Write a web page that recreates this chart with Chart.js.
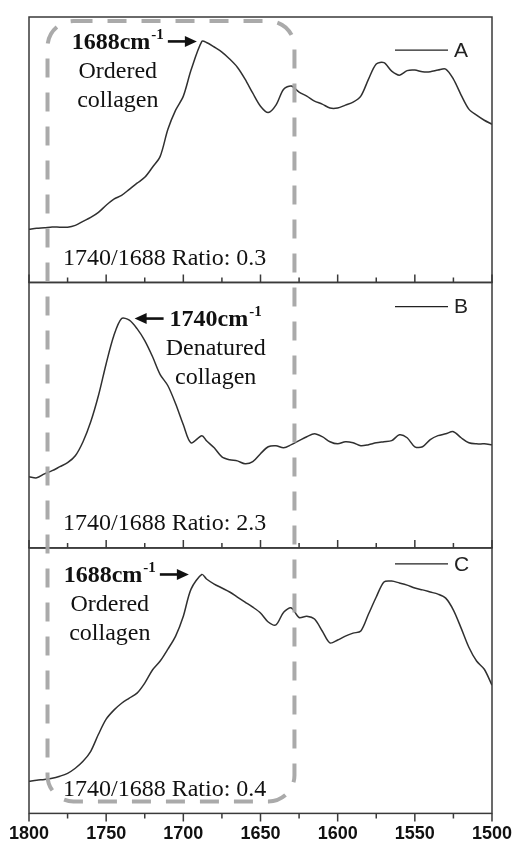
<!DOCTYPE html>
<html>
<head>
<meta charset="utf-8">
<script src="https://cdn.jsdelivr.net/npm/chart.js@4.4.1/dist/chart.umd.min.js"></script>
<style>
  html, body { margin: 0; padding: 0; background: #fff; }
  #wrap { width: 515px; height: 845px; }
</style>
</head>
<body>
<div id="wrap"><canvas id="ftirSpectra" width="515" height="845"></canvas></div>
<script>
// Amide I region, wavenumber in cm-1
const wavenumbers = [1800, 1795, 1790, 1785, 1780, 1775, 1770, 1765, 1760, 1755,
    1750, 1745, 1740, 1735, 1730, 1725, 1720, 1715, 1710, 1705,
    1700, 1695, 1688, 1685, 1680, 1675, 1670, 1665, 1660, 1655,
    1650, 1645, 1640, 1635, 1630, 1625, 1620, 1615, 1610, 1605,
    1600, 1595, 1590, 1585, 1580, 1575, 1570, 1565, 1560, 1555,
    1550, 1545, 1540, 1535, 1530, 1525, 1520, 1515, 1510, 1505, 1500];

const spectrumA = [20.0, 20.4, 20.6, 20.9, 20.8, 20.8, 21.5, 23.0, 24.5, 26.4,
    29.1, 31.4, 32.8, 35.1, 37.4, 39.6, 43.4, 47.5, 57.7, 64.9,
    70.2, 80.0, 90.8, 90.4, 88.7, 86.8, 84.2, 81.1, 76.6, 71.3,
    66.4, 64.0, 66.8, 72.8, 74.0, 71.7, 70.2, 68.3, 67.2, 65.7,
    65.7, 66.8, 67.9, 70.2, 76.6, 82.3, 82.8, 79.6, 78.1, 79.8,
    80.0, 79.4, 79.4, 80.0, 80.4, 76.6, 70.6, 65.3, 63.0, 61.1, 59.6];

const spectrumB = [26.8, 26.4, 27.9, 29.1, 30.6, 32.1, 34.7, 40.0, 47.5, 57.4,
    69.4, 80.0, 86.4, 85.8, 82.6, 78.1, 72.1, 65.3, 61.1, 54.3,
    46.4, 39.6, 42.3, 40.4, 37.7, 34.3, 33.2, 32.8, 31.7, 32.5,
    35.5, 38.1, 38.5, 37.7, 38.9, 40.4, 41.9, 43.0, 41.9, 40.0,
    39.2, 40.0, 39.6, 38.5, 38.9, 39.6, 40.0, 40.4, 42.6, 41.5,
    38.1, 38.1, 40.8, 42.3, 43.0, 43.8, 41.5, 39.6, 39.2, 39.2, 38.9];

const spectrumC = [12.1, 12.5, 12.8, 13.2, 14.0, 15.1, 17.0, 19.6, 23.4, 29.8,
    35.5, 38.9, 41.5, 43.4, 45.3, 49.1, 54.0, 57.4, 61.9, 66.8,
    74.3, 84.5, 90.0, 88.3, 86.4, 84.9, 83.4, 81.5, 79.6, 77.7,
    75.5, 72.1, 71.0, 75.8, 77.4, 73.8, 74.3, 73.2, 68.7, 64.2,
    65.3, 66.8, 67.9, 68.7, 75.1, 81.5, 87.2, 87.5, 86.8, 86.0,
    84.9, 84.2, 83.4, 82.6, 81.1, 76.6, 69.8, 62.6, 57.4, 54.3, 48.3];

const xTicks = [1800, 1750, 1700, 1650, 1600, 1550, 1500];
const panelLabels = ['A', 'B', 'C'];
const peakPositions = [1688, 1740, 1688];
const peakNames = [['Ordered', 'collagen'], ['Denatured', 'collagen'], ['Ordered', 'collagen']];
const ratios = ['0.3', '2.3', '0.4'];
const boxRange = [1788, 1628];

const panelAxes = ['yA', 'yB', 'yC'];
const series = [spectrumA, spectrumB, spectrumC];

// per-panel placement of the legend (in panel units) and the peak arrow
const legendLevels = [87.5, 90.9, 94];
const arrowSide = ['left', 'right', 'left'];
const arrowGap = [5, 13, 13];

const serif = '"Liberation Serif", "Times New Roman", serif';
const sans = '"Liberation Sans", Arial, sans-serif';

function drawArrow(ctx, fromX, toX, y) {
    const dir = Math.sign(toX - fromX);
    ctx.lineWidth = 2.6;
    ctx.beginPath();
    ctx.moveTo(fromX, y);
    ctx.lineTo(toX - dir * 8, y);
    ctx.stroke();
    ctx.beginPath();
    ctx.moveTo(toX, y);
    ctx.lineTo(toX - dir * 12, y - 5.5);
    ctx.lineTo(toX - dir * 12, y + 5.5);
    ctx.closePath();
    ctx.fill();
}

const spectraDecor = {
    id: 'spectraDecor',
    beforeDraw(chart) {
        const { ctx, width, height } = chart;
        ctx.save();
        ctx.fillStyle = '#fff';
        ctx.fillRect(0, 0, width, height);
        ctx.restore();
    },
    afterDatasetsDraw(chart) {
        const { ctx, chartArea: area, scales } = chart;
        const x = scales.x;
        ctx.save();

        // frames, with ticks pointing in on the upper panels and out on the last one
        panelAxes.forEach((id, i) => {
            const y = scales[id];
            ctx.strokeStyle = '#3a3a3a';
            ctx.lineWidth = 1.5;
            ctx.strokeRect(area.left, y.top, area.right - area.left, y.bottom - y.top);
            const dir = i === panelAxes.length - 1 ? 1 : -1;
            ctx.beginPath();
            xTicks.forEach((v, k) => {
                const px = x.getPixelForValue(v);
                ctx.moveTo(px, y.bottom);
                ctx.lineTo(px, y.bottom + dir * 8);
                if (k < xTicks.length - 1) {
                    const mx = x.getPixelForValue((v + xTicks[k + 1]) / 2);
                    ctx.moveTo(mx, y.bottom);
                    ctx.lineTo(mx, y.bottom + dir * 5);
                }
            });
            ctx.stroke();
        });

        // dashed box around the 1740/1688 band region
        const bx0 = x.getPixelForValue(boxRange[0]);
        const bx1 = x.getPixelForValue(boxRange[1]);
        const by0 = scales.yA.top + 4;
        const by1 = scales.yC.bottom - 12;
        ctx.setLineDash([19, 15]);
        ctx.lineWidth = 4;
        ctx.strokeStyle = 'rgba(165,165,165,0.95)';
        ctx.beginPath();
        ctx.roundRect(bx0, by0, bx1 - bx0, by1 - by0, 26);
        ctx.stroke();
        ctx.setLineDash([]);

        ctx.fillStyle = '#111';
        ctx.strokeStyle = '#111';
        panelAxes.forEach((id, i) => {
            const y = scales[id];
            const peak = peakPositions[i];
            const px = x.getPixelForValue(peak);
            const py = y.getPixelForValue(series[i][wavenumbers.indexOf(peak)]);

            // peak label: "1688cm-1" with superscript
            const main = peak + 'cm';
            const sup = '-1';
            ctx.font = 'bold 24px ' + serif;
            const mainW = ctx.measureText(main).width;
            ctx.font = 'bold 15px ' + serif;
            const supW = ctx.measureText(sup).width;
            const labelW = mainW + supW + 1;

            let labelLeft;
            if (arrowSide[i] === 'left') {
                const tip = px - arrowGap[i];
                const tail = tip - 29;
                drawArrow(ctx, tail, tip, py);
                labelLeft = tail - 4 - labelW;
            } else {
                const tip = px + arrowGap[i];
                const tail = tip + 29;
                drawArrow(ctx, tail, tip, py);
                labelLeft = tail + 6;
            }

            ctx.textBaseline = 'middle';
            ctx.textAlign = 'left';
            ctx.font = 'bold 24px ' + serif;
            ctx.fillText(main, labelLeft, py + 1);
            ctx.font = 'bold 15px ' + serif;
            ctx.fillText(sup, labelLeft + mainW + 1, py - 6);

            ctx.font = '24px ' + serif;
            ctx.textAlign = 'center';
            const cx = labelLeft + labelW / 2;
            peakNames[i].forEach((line, k) => {
                ctx.fillText(line, cx, py + 30 + k * 29);
            });

            // band ratio along the bottom of the panel
            ctx.textAlign = 'left';
            ctx.fillText('1740/1688 Ratio: ' + ratios[i], area.left + 34, y.bottom - 24);

            // legend entry in the top-right corner
            const ly = y.getPixelForValue(legendLevels[i]);
            ctx.lineWidth = 1.3;
            ctx.strokeStyle = '#222';
            ctx.beginPath();
            ctx.moveTo(area.right - 97, ly);
            ctx.lineTo(area.right - 44, ly);
            ctx.stroke();
            ctx.font = '21px ' + sans;
            ctx.fillStyle = '#222';
            ctx.fillText(panelLabels[i], area.right - 38, ly + 1);
            ctx.fillStyle = '#111';
            ctx.strokeStyle = '#111';
        });
        ctx.restore();
    }
};

const datasets = series.map((values, i) => ({
    label: panelLabels[i],
    data: wavenumbers.map((w, j) => ({ x: w, y: values[j] })),
    yAxisID: panelAxes[i],
    borderColor: '#303030',
    borderWidth: 1.5,
    pointRadius: 0,
    tension: 0.3,
    fill: false
}));

const panelScale = () => ({
    type: 'linear',
    position: 'left',
    stack: 'spectra',
    stackWeight: 1,
    min: 0,
    max: 100,
    display: false
});

new Chart(document.getElementById('ftirSpectra'), {
    type: 'line',
    data: { datasets },
    options: {
        responsive: false,
        animation: false,
        layout: { padding: { top: 17, left: 29, right: 23, bottom: -10 } },
        plugins: {
            legend: { display: false },
            tooltip: { enabled: false }
        },
        scales: {
            x: {
                type: 'linear',
                reverse: true,
                min: 1500,
                max: 1800,
                position: 'bottom',
                grid: { display: false, drawTicks: false },
                border: { display: false },
                afterBuildTicks: (axis) => { axis.ticks = xTicks.map(v => ({ value: v })); },
                // end labels may overhang the frame; the page margins leave room for them
                afterFit: (axis) => { axis.paddingLeft = 0; axis.paddingRight = 0; },
                ticks: {
                    autoSkip: false,
                    maxRotation: 0,
                    padding: 10,
                    color: '#111',
                    font: { family: sans, size: 18, weight: 'bold' },
                    callback: (v) => String(v)
                }
            },
            // the stack fills from the bottom up, so the last panel comes first
            yC: panelScale(),
            yB: panelScale(),
            yA: panelScale()
        }
    },
    plugins: [spectraDecor]
});
</script>
</body>
</html>
